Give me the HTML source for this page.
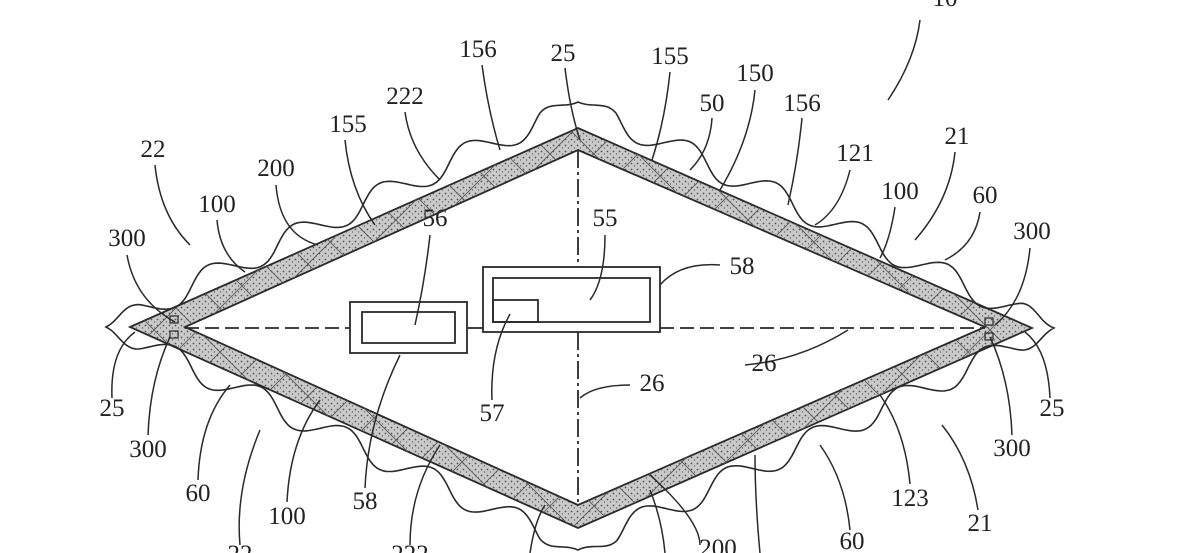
<!DOCTYPE html>
<html><head><meta charset="utf-8">
<style>
html,body{margin:0;padding:0;background:#fff;}
svg{display:block;}
text{font-family:"Liberation Serif",serif;font-size:25px;fill:#222;text-anchor:middle;}
</style></head>
<body>
<svg id="s" width="1200" height="553" viewBox="0 0 1200 553" xmlns="http://www.w3.org/2000/svg">
<defs>
<pattern id="dots" width="6" height="6" patternUnits="userSpaceOnUse">
<rect width="6" height="6" fill="#cacaca"/>
<circle cx="1.5" cy="1.5" r="0.9" fill="#555"/>
<circle cx="4.5" cy="4" r="0.7" fill="#666"/>
</pattern>
<pattern id="hatch" width="44" height="44" patternUnits="userSpaceOnUse">
<path d="M0,0 L44,44 M44,0 L0,44" stroke="#555" stroke-width="0.8" fill="none"/>
</pattern>
</defs>
<g stroke="#2a2a2a" stroke-width="1.8" fill="none">
<path fill="url(#dots)" fill-rule="evenodd" d="M130,327 L578,128 L1032,328 L578,528 Z M185,327 L578,150 L985,327 L578,505 Z"/>
<path fill="url(#hatch)" stroke="none" fill-rule="evenodd" d="M130,327 L578,128 L1032,328 L578,528 Z M185,327 L578,150 L985,327 L578,505 Z"/>
<line x1="185" y1="328" x2="350" y2="328" stroke-dasharray="14,6"/>
<line x1="467" y1="328" x2="483" y2="328"/>
<line x1="660" y1="328" x2="985" y2="328" stroke-dasharray="14,6"/>
<line x1="578" y1="150" x2="578" y2="267" stroke-dasharray="18,4,3,4"/>
<line x1="578" y1="332" x2="578" y2="505" stroke-dasharray="18,4,3,4"/>
<rect x="350" y="302" width="117" height="51"/>
<rect x="362" y="312" width="93" height="31"/>
<rect x="483" y="267" width="177" height="65"/>
<rect x="493" y="278" width="157" height="44"/>
<rect x="493" y="300" width="45" height="22"/>
<rect x="170" y="316" width="8" height="7" stroke-width="1.2"/>
<rect x="170" y="331" width="8" height="7" stroke-width="1.2"/>
<rect x="985" y="318" width="8" height="7" stroke-width="1.2"/>
<rect x="985" y="333" width="8" height="7" stroke-width="1.2"/>
<path id="wave" stroke-width="1.6"/>
<g id="leads" stroke-width="1.5"></g>
</g>
<g>
<text x="945" y="6">10</text>
<text x="478" y="57">156</text>
<text x="563" y="61">25</text>
<text x="670" y="64">155</text>
<text x="755" y="81">150</text>
<text x="712" y="111">50</text>
<text x="802" y="111">156</text>
<text x="405" y="104">222</text>
<text x="348" y="132">155</text>
<text x="153" y="157">22</text>
<text x="276" y="176">200</text>
<text x="855" y="161">121</text>
<text x="957" y="144">21</text>
<text x="217" y="212">100</text>
<text x="900" y="199">100</text>
<text x="985" y="203">60</text>
<text x="127" y="246">300</text>
<text x="1032" y="239">300</text>
<text x="435" y="226">56</text>
<text x="605" y="226">55</text>
<text x="742" y="274">58</text>
<text x="764" y="371">26</text>
<text x="652" y="391">26</text>
<text x="112" y="416">25</text>
<text x="148" y="457">300</text>
<text x="492" y="421">57</text>
<text x="1052" y="416">25</text>
<text x="1012" y="456">300</text>
<text x="198" y="501">60</text>
<text x="287" y="524">100</text>
<text x="365" y="509">58</text>
<text x="910" y="506">123</text>
<text x="980" y="531">21</text>
<text x="852" y="549">60</text>
<text x="718" y="556">200</text>
<text x="240" y="562">22</text>
<text x="410" y="562">222</text>
</g>
</svg>
<script>
(function(){
var V=[[106,327],[578,102],[1054,328],[578,550]];
var d='';
for(var e=0;e<4;e++){
 var a=V[e],b=V[(e+1)%4];
 var dx=b[0]-a[0],dy=b[1]-a[1],L=Math.hypot(dx,dy);
 var nx=dy/L,ny=-dx/L;
 var n=Math.round(L/3);
 for(var i=0;i<=n;i++){
  var t=i/n,s=t*L;
  var env=Math.min(1,Math.min(s,L-s)/40);
  var w=12*Math.sin(s*2*Math.PI/95)*env;
  var x=a[0]+dx*t+nx*w,y=a[1]+dy*t+ny*w;
  d+=(d===''?'M':'L')+x.toFixed(1)+','+y.toFixed(1);
 }
}
d+='Z';
document.getElementById('wave').setAttribute('d',d);
var leads=[
"M920,20 Q915,60 888,100","M482,65 Q488,110 500,150","M565,68 Q570,110 580,140",
"M670,72 Q665,120 652,160","M755,90 Q750,140 720,190","M712,118 Q710,150 690,170",
"M802,118 Q798,160 788,205","M405,112 Q410,150 440,180","M345,140 Q350,190 375,225",
"M155,165 Q160,215 190,245","M276,185 Q280,235 318,245","M850,170 Q840,210 815,225",
"M955,152 Q950,200 915,240","M217,220 Q220,255 245,272","M895,207 Q890,240 880,258",
"M980,212 Q975,245 945,260","M127,255 Q135,300 175,322","M1030,248 Q1025,300 995,325",
"M430,235 Q425,280 415,325","M605,235 Q605,280 590,300","M720,265 Q680,262 660,285",
"M745,365 Q800,360 848,330","M630,385 Q595,385 580,398","M112,398 Q110,350 135,332",
"M148,435 Q150,380 170,337","M492,400 Q490,350 510,314","M1050,398 Q1048,350 1025,332",
"M1012,435 Q1010,380 990,337","M198,480 Q200,420 230,385","M287,502 Q290,440 320,400",
"M365,488 Q368,420 400,355","M910,484 Q905,430 880,395","M978,510 Q970,460 942,425",
"M850,530 Q845,480 820,445","M700,545 Q700,520 650,475","M240,545 Q235,490 260,430",
"M410,545 Q410,490 440,445","M530,553 Q535,520 545,505","M665,553 Q662,520 650,490",
"M760,553 Q755,500 755,455"];
var g=document.getElementById('leads');
leads.forEach(function(p){var el=document.createElementNS('http://www.w3.org/2000/svg','path');el.setAttribute('d',p);g.appendChild(el);});
})();
</script>
</body></html>
